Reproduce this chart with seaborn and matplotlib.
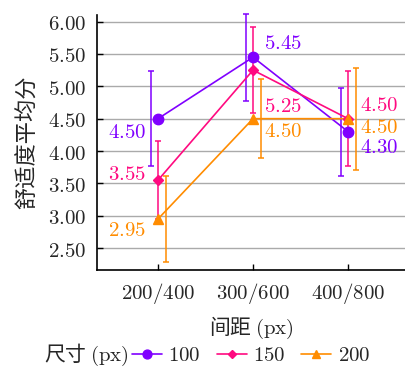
import numpy as np
import pandas as pd
import matplotlib
matplotlib.use("Agg")
import matplotlib.pyplot as plt
import seaborn as sns
from matplotlib.lines import Line2D

# ---- data ----
categories = ["200/400", "300/600", "400/800"]
sizes = ["100", "150", "200"]
means_100 = [4.50, 5.45, 4.30]
means_150 = [3.55, 5.25, 4.50]
means_200 = [2.95, 4.50, 4.50]
err_100 = [0.73, 0.67, 0.68]
err_150 = [0.60, 0.67, 0.73]
err_200 = [0.66, 0.61, 0.79]
yticks = [2.5, 3.0, 3.5, 4.0, 4.5, 5.0, 5.5, 6.0]

# ---- style ----
sns.set_style("ticks")
plt.rcParams['font.family'] = ['Noto Sans CJK SC', 'DejaVu Sans']
plt.rcParams['mathtext.fontset'] = 'cm'

colors = {"100": "#8000ff", "150": "#ff0a80", "200": "#ff8c00"}
markers = {"100": "o", "150": "D", "200": "^"}
msizes = {"100": 7.5, "150": 5.0, "200": 7.0}
bar_offset = {"100": -0.079, "150": 0.0, "200": 0.079}
# label offsets in pixels (dx, dy down)
label_off = {
    "100": [(-31, 13), (30, -14), (31, 15)],
    "150": [(-31, -6.5), (30, 36), (31, -13.5)],
    "200": [(-31, 11), (30, 12), (31, 8)],
}

rows = []
for s, m, e in [("100", means_100, err_100), ("150", means_150, err_150), ("200", means_200, err_200)]:
    for i, c in enumerate(categories):
        rows.append({"size": s, "cat": c, "x": i, "mean": m[i], "err": e[i]})
df = pd.DataFrame(rows)

fig = plt.figure(figsize=(4.06, 3.69), dpi=100)
ax = fig.add_axes([0.239, 0.268, 0.761, 0.691])

for k, s in enumerate(sizes):
    d = df[df["size"] == s]
    eb = ax.errorbar(d["x"] + bar_offset[s], d["mean"], yerr=d["err"], fmt="none",
                     ecolor=colors[s], elinewidth=1.1, capsize=2.2, capthick=1.1,
                     zorder=2 + k)
    for art in eb.lines[1] + eb.lines[2]:
        art.set_clip_on(False)

sns.lineplot(data=df, x="x", y="mean", hue="size", hue_order=sizes,
             palette=colors, ax=ax, legend=False, linewidth=1.2, estimator=None,
             sort=False, errorbar=None, zorder=3)
for k, s in enumerate(sizes):
    d = df[df["size"] == s]
    ax.plot(d["x"], d["mean"], linestyle="none", marker=markers[s],
            markersize=msizes[s], color=colors[s], zorder=4 + k)
    for (xi, yi), (dx, dy) in zip(zip(d["x"], d["mean"]), label_off[s]):
        ax.annotate(f"${yi:.2f}$", (xi, yi), xytext=(dx * 0.72, -dy * 0.72),
                    textcoords="offset points", ha="center", va="center",
                    fontsize=15, color=colors[s], zorder=6)

ax.set_xlim(-0.642, 2.61)
ax.set_ylim(2.16, 6.10)
ax.set_xticks(range(len(categories)))
ax.set_xticklabels([f"${c}$" for c in categories], fontsize=15)
ax.set_yticks(yticks)
ax.set_yticklabels([f"${v:.2f}$" for v in yticks], fontsize=15)
ax.yaxis.grid(True, color="#aaaaaa", linewidth=1.0)
ax.set_axisbelow(True)
for sp in ["top", "right"]:
    ax.spines[sp].set_visible(False)
for sp in ["left", "bottom"]:
    ax.spines[sp].set_color("black")
    ax.spines[sp].set_linewidth(1.2)
ax.tick_params(direction="in", length=4, width=1.0, color="black", pad=8)
ax.set_xlabel("间距 $(\\mathrm{px})$", fontsize=15, labelpad=6)
ax.set_ylabel("舒适度平均分", fontsize=16, labelpad=6)

fig.text(86 / 406, 1 - 355 / 369, "尺寸 $(\\mathrm{px})$", fontsize=15,
         ha="center", va="center")
handles = [Line2D([0], [0], color=colors[s], marker=markers[s],
                  markersize=msizes[s] * 0.85, linewidth=1.2) for s in sizes]
fig.legend(handles, [f"${s}$" for s in sizes], loc="center",
           bbox_to_anchor=(251 / 406, 1 - 355 / 369), ncol=3, frameon=False,
           fontsize=15, handlelength=1.45, handletextpad=0.3, columnspacing=0.75,
           borderpad=0, borderaxespad=0)

fig.savefig("out.png", dpi=100)
